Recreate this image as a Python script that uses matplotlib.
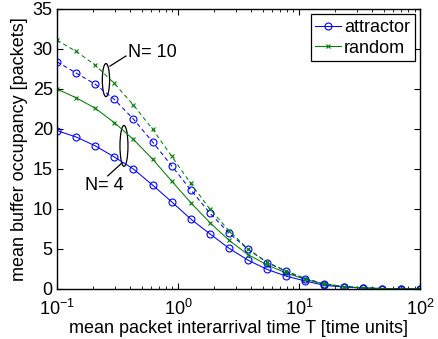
import matplotlib
matplotlib.use('Agg')
import matplotlib.pyplot as plt
from matplotlib.patches import Ellipse

plt.rcParams['font.family'] = ['Liberation Sans', 'DejaVu Sans']
plt.rcParams['mathtext.fontset'] = 'custom'
plt.rcParams['mathtext.rm'] = 'Liberation Sans'
plt.rcParams['mathtext.it'] = 'Liberation Sans'

# interarrival times T (log spaced, 20 points)
T = [0.1, 0.144, 0.207, 0.298, 0.428, 0.616, 0.886, 1.274, 1.833, 2.637,
     3.793, 5.456, 7.848, 11.29, 16.24, 23.36, 33.6, 48.33, 69.52, 100.0]

# N = 4
attr_n4 = [19.8, 19.0, 17.9, 16.5, 15.0, 13.0, 10.9, 8.75, 6.9, 5.1,
           3.6, 2.45, 1.6, 1.0, 0.45, 0.25, 0.12, 0.05, 0.02, 0.01]
rand_n4 = [25.0, 23.9, 22.6, 20.8, 18.7, 16.25, 13.5, 10.8, 8.3, 6.1,
           4.3, 3.0, 2.0, 1.2, 0.6, 0.3, 0.15, 0.06, 0.02, 0.01]
# N = 10
attr_n10 = [28.4, 27.0, 25.6, 23.7, 21.25, 18.4, 15.4, 12.4, 9.5, 7.0,
            4.95, 3.3, 2.2, 1.25, 0.65, 0.3, 0.15, 0.06, 0.02, 0.01]
rand_n10 = [31.1, 29.7, 28.0, 25.7, 23.0, 20.0, 16.6, 13.2, 10.0, 7.3,
            5.0, 3.35, 2.25, 1.3, 0.65, 0.3, 0.15, 0.06, 0.02, 0.01]

blue = (0, 0, 1)
green = (0, 0.5, 0)
dash = (0, (4, 3))
fs = 13

fig = plt.figure(figsize=(4.38, 3.39), dpi=100)
ax = fig.add_axes([0.130, 0.1475, 0.829, 0.826])

ax.plot(T, attr_n4, '-', color=blue, marker='o', ms=5, mfc='none', mew=0.8, lw=0.75, label='attractor')
ax.plot(T, rand_n4, '-', color=green, marker='x', ms=3.5, mew=0.8, lw=0.75, label='random')
ax.plot(T, attr_n10, linestyle=dash, color=blue, marker='o', ms=5, mfc='none', mew=0.8, lw=0.75)
ax.plot(T, rand_n10, linestyle=dash, color=green, marker='x', ms=3.5, mew=0.8, lw=0.75)

ax.set_xscale('log')
ax.set_xlim(0.1, 100)
ax.set_ylim(0, 35)
ax.set_yticks(range(0, 36, 5))
ax.tick_params(which='both', direction='in', top=True, right=True, labelsize=fs)
ax.tick_params(which='major', length=4, pad=3)
ax.tick_params(which='minor', length=2)
ax.tick_params(axis='x', which='major', pad=7)
for s in ax.spines.values():
    s.set_linewidth(1.0)

ax.set_xlabel('mean packet interarrival time T [time units]', fontsize=fs, labelpad=1)
ax.set_ylabel('mean buffer occupancy [packets]', fontsize=fs, labelpad=3)

# ellipse annotations
ax.add_patch(Ellipse((0.135, 0.746), 0.020, 0.118, transform=ax.transAxes,
                     fill=False, ec='black', lw=0.9))
ax.plot([0.146, 0.190], [0.796, 0.832], transform=ax.transAxes, color='black', lw=0.9)
ax.text(0.196, 0.846, 'N= 10', transform=ax.transAxes, fontsize=fs, va='center')

ax.add_patch(Ellipse((0.1846, 0.511), 0.022, 0.146, transform=ax.transAxes,
                     fill=False, ec='black', lw=0.9))
ax.plot([0.179, 0.140], [0.45, 0.404], transform=ax.transAxes, color='black', lw=0.9)
ax.text(0.077, 0.371, 'N= 4', transform=ax.transAxes, fontsize=fs, va='center')

leg = ax.legend(loc='upper right', numpoints=1, fontsize=fs, fancybox=False,
                edgecolor='black', framealpha=1, handlelength=1.4,
                borderaxespad=0.3, borderpad=0.25, labelspacing=0.2, handletextpad=0.2)
leg.get_frame().set_linewidth(0.9)

fig.savefig('out.png', dpi=100)
